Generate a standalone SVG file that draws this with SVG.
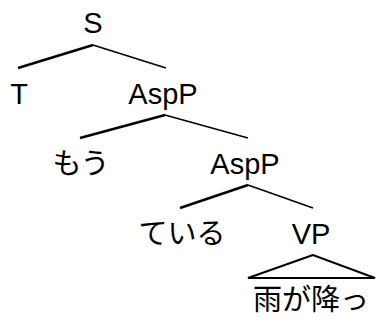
<svg xmlns="http://www.w3.org/2000/svg" width="376" height="322" viewBox="0 0 376 322">
<style>
text{font-family:"Liberation Sans","Noto Sans CJK JP",sans-serif;font-size:29px;fill:#000;text-anchor:middle}
.thick{stroke:#000;stroke-width:2.5;fill:none}
.thin{stroke:#000;stroke-width:1.6;fill:none}
.tri{stroke:#000;stroke-width:2;fill:none}
</style>
<rect width="376" height="322" fill="#fff"/>
<g id="connectors">
<line class="thick" x1="93" y1="45" x2="18" y2="68"/>
<line class="thin" x1="93" y1="45" x2="166" y2="68"/>
<line class="thick" x1="165" y1="115" x2="80" y2="138"/>
<line class="thin" x1="165" y1="115" x2="248" y2="138"/>
<line class="thick" x1="248" y1="185" x2="180" y2="208"/>
<line class="thin" x1="248" y1="185" x2="313" y2="208"/>
<polygon class="tri" points="313,255 248,278 375,278"/>
</g>
<g id="S"><text x="93" y="33">S</text></g>
<g id="T"><text x="19" y="104">T</text></g>
<g id="AspP1"><text x="163" y="104">AspP</text></g>
<g id="mou"><text x="81" y="174" font-size="28">もう</text></g>
<g id="AspP2"><text x="245" y="174">AspP</text></g>
<g id="teiru"><text x="182" y="244" font-size="28">ている</text></g>
<g id="VP"><text x="311" y="244">VP</text></g>
<g id="amegafu"><text x="311" y="310" font-size="28">雨が降っ</text></g>
</svg>
